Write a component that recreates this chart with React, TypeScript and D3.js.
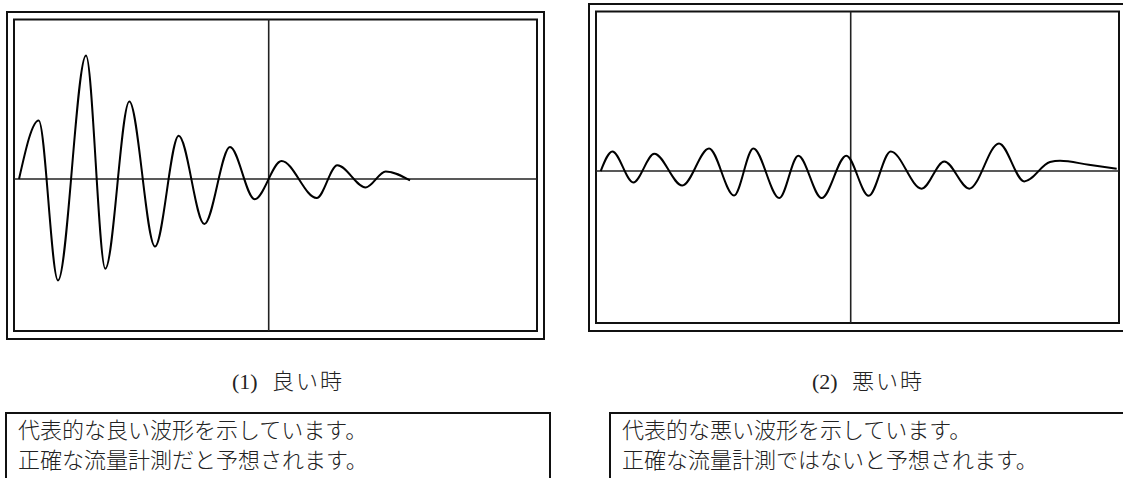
import React from "react";
import * as d3 from "d3";

// ---- data (time in % of sweep, amplitude in arbitrary units) ----
const goodTimes = [0.96, 4.72, 8.41, 13.77, 17.46, 22.05, 26.96, 31.49, 36.39, 41.3, 46.02, 51.15, 57.88, 61.82, 67.25, 71.08, 75.72];
const goodAmps = [0, 38.6, -66.7, 81.3, -59.0, 51.1, -44.4, 28.5, -29.6, 21.1, -13.3, 11.9, -12.5, 9.0, -5.5, 5.0, -0.9];

const badTimes = [0.9, 3.12, 7.13, 11.15, 16.5, 21.61, 26.39, 30.08, 35.05, 38.68, 43.15, 47.86, 52.14, 56.35, 62.27, 66.59, 71.38, 77.05, 81.89, 86.8, 88.72, 94.22, 99.56];
const badAmps = [0, 12.9, -7.5, 11.4, -9.5, 14.9, -16.1, 14.9, -17.8, 10.1, -17.8, 10.1, -16.3, 12.9, -11.6, 6.3, -11.6, 18.2, -6.8, 5.9, 6.8, 4.1, 1.5];

const markerTime = 48.7;
const timeDomain = [0, 100];
const ampDomain = [-100, 105];

const captionLabels = ["(1)", "(2)"];
const captionTitles = ["良い時", "悪い時"];
const goodNotes = ["代表的な良い波形を示しています。", "正確な流量計測だと予想されます。"];
const badNotes = ["代表的な悪い波形を示しています。", "正確な流量計測ではないと予想されます。"];

const INNER_W = 523;
const INNER_H = 311.5;

function Panel({ ox, oy, times, amps }: { ox: number; oy: number; times: number[]; amps: number[] }) {
  const x = d3.scaleLinear().domain(timeDomain).range([ox, ox + INNER_W]);
  const y = d3.scaleLinear().domain(ampDomain).range([oy + INNER_H, oy]);
  const pts = times.map((t, i) => [t, amps[i]] as [number, number]);
  const line = d3
    .line<[number, number]>()
    .x((d) => x(d[0]))
    .y((d) => y(d[1]))
    .curve(d3.curveMonotoneX);
  return (
    <g>
      <rect x={ox - 7} y={oy - 7.5} width={INNER_W + 14} height={INNER_H + 15.5} fill="white" stroke="#111" strokeWidth={2} />
      <rect x={ox} y={oy} width={INNER_W} height={INNER_H} fill="white" stroke="#111" strokeWidth={2} />
      <line x1={ox} x2={ox + INNER_W} y1={y(0)} y2={y(0)} stroke="#222" strokeWidth={1.6} />
      <line x1={x(markerTime)} x2={x(markerTime)} y1={oy} y2={oy + INNER_H} stroke="#222" strokeWidth={1.6} />
      <path d={line(pts) || ""} fill="none" stroke="#000" strokeWidth={2} />
    </g>
  );
}

function Caption({ x, label, title }: { x: number; label: string; title: string }) {
  return (
    <text x={x} y={389} fontSize={22} fill="#222" fontFamily="'Liberation Serif', 'Noto Sans CJK JP', serif">
      {label}
      <tspan x={x + 40} fontFamily="'Noto Sans CJK JP', sans-serif" fontWeight={300} letterSpacing={2}>
        {title}
      </tspan>
    </text>
  );
}

function NoteBox({ bx, bw, lines }: { bx: number; bw: number; lines: string[] }) {
  return (
    <g>
      <rect x={bx} y={413} width={bw} height={90} fill="white" stroke="#111" strokeWidth={2} />
      {lines.map((s, i) => (
        <text
          key={i}
          x={bx + 12}
          y={438 + i * 30}
          fontSize={22}
          fill="#222"
          fontFamily="'Noto Sans CJK JP', sans-serif"
          fontWeight={300}
        >
          {s}
        </text>
      ))}
    </g>
  );
}

export default function App() {
  return (
    <svg
      width={1123}
      height={478}
      style={{ position: "absolute", left: 0, top: 0, background: "white" }}
    >
      <rect x={0} y={0} width={1123} height={478} fill="white" />
      <Panel ox={14} oy={19.5} times={goodTimes} amps={goodAmps} />
      <Panel ox={596} oy={11.5} times={badTimes} amps={badAmps} />
      <Caption x={232} label={captionLabels[0]} title={captionTitles[0]} />
      <Caption x={812} label={captionLabels[1]} title={captionTitles[1]} />
      <NoteBox bx={6} bw={544} lines={goodNotes} />
      <NoteBox bx={610} bw={540} lines={badNotes} />
    </svg>
  );
}
